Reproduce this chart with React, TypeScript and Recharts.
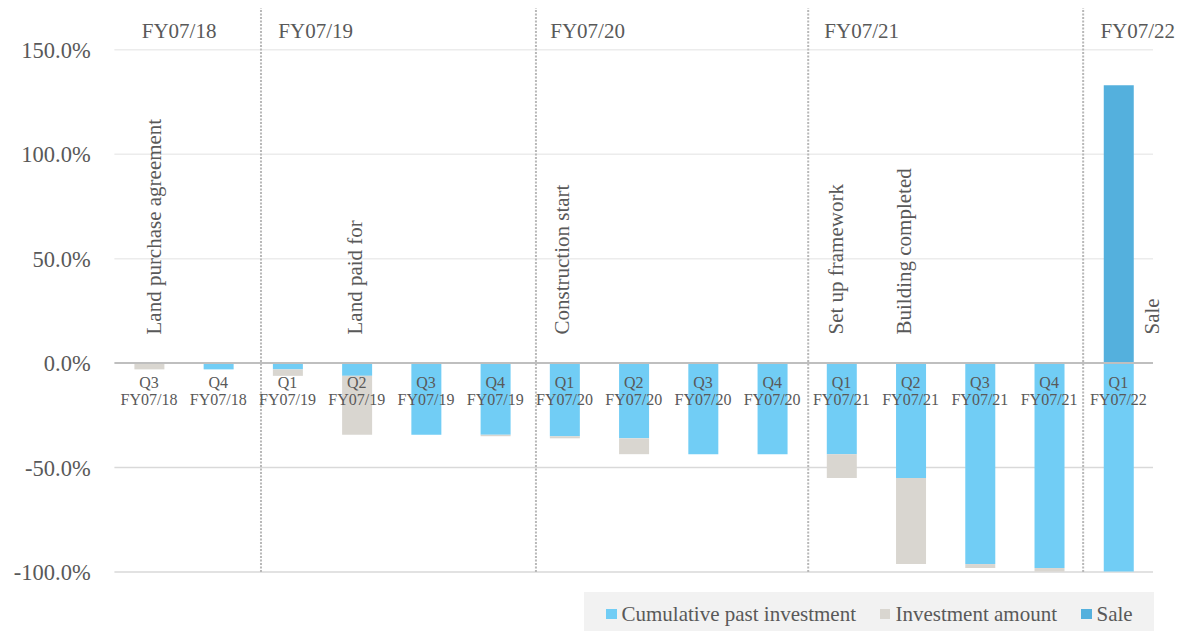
import React from 'react';
import { BarChart, Bar, XAxis, YAxis, ReferenceLine, ReferenceDot, Legend, CartesianGrid } from 'recharts';

// ---------- data ----------
const categories = [
  'Q3 FY07/18', 'Q4 FY07/18',
  'Q1 FY07/19', 'Q2 FY07/19', 'Q3 FY07/19', 'Q4 FY07/19',
  'Q1 FY07/20', 'Q2 FY07/20', 'Q3 FY07/20', 'Q4 FY07/20',
  'Q1 FY07/21', 'Q2 FY07/21', 'Q3 FY07/21', 'Q4 FY07/21',
  'Q1 FY07/22',
];
const cumulativePastInvestment = [0, -3, -3, -6.1, -34.3, -34.3, -35, -36, -43.6, -43.6, -43.6, -55, -96.2, -98.1, -99.8];
const investmentAmount = [-3, 0, -3.1, -28.2, 0, -0.7, -1, -7.6, 0, 0, -11.4, -41.2, -1.9, -1.7, 0];
const saleAmount = [0, 0, 0, 0, 0, 0, 0, 0, 0, 0, 0, 0, 0, 0, 133];

const yTicks = [-100, -50, 0, 50, 100, 150];
const yDomain = [-100, 170];

const fiscalYears = ['FY07/18', 'FY07/19', 'FY07/20', 'FY07/21', 'FY07/22'];
const fiscalYearFirstQuarter = ['Q3 FY07/18', 'Q1 FY07/19', 'Q1 FY07/20', 'Q1 FY07/21', 'Q1 FY07/22'];

const milestoneCategories = ['Q3 FY07/18', 'Q2 FY07/19', 'Q1 FY07/20', 'Q1 FY07/21', 'Q2 FY07/21', 'Q1 FY07/22'];
const milestoneTexts = ['Land purchase agreement', 'Land paid for', 'Construction start', 'Set up framework', 'Building completed', 'Sale'];

const seriesNames = ['Cumulative past investment', 'Investment amount', 'Sale'];

// ---------- styles ----------
const FONT = '"Liberation Serif", "Times New Roman", serif';
const TEXT = '#595959';
const BLUE = '#71CDF5';
const GRAY = '#D9D6D0';
const SALE = '#54B0DD';
const milestoneNudge = [11.6, 5, 5, 2, 0.6, 41];
const fyLabelNudge = [-7.3, -9.2, -14.2, -17.1, -18];
const dividerNudge = [8.1, 6.1, 1.4, -0.6];

const data = categories.map((c, i) => ({
  category: c,
  cumulative: cumulativePastInvestment[i],
  investment: investmentAmount[i],
  sale: saleAmount[i],
}));

const renderLegend = (props: any) => {
  const payload = props.payload || [];
  return (
    <div
      style={{
        display: 'flex',
        alignItems: 'center',
        width: '100%',
        height: '100%',
        background: '#f2f2f2',
        paddingLeft: 22,
        paddingTop: 4,
        boxSizing: 'border-box',
        fontFamily: FONT,
        fontSize: 21,
        color: TEXT,
        whiteSpace: 'nowrap',
      }}
    >
      {payload.map((e: any, i: number) => (
        <div key={i} style={{ display: 'flex', alignItems: 'center', marginRight: 24 }}>
          <span style={{ display: 'inline-block', width: 10.5, height: 10.5, background: e.color, marginRight: 5 }} />
          <span>{e.value}</span>
        </div>
      ))}
    </div>
  );
};

export default function App() {
  return (
    <div style={{ position: 'absolute', left: 0, top: 0, width: 1194, height: 631, background: '#fff' }}>
      <BarChart
        width={1194}
        height={631}
        data={data}
        stackOffset="sign"
        margin={{ top: 8, right: 41, bottom: 59, left: 0 }}
        style={{ fontFamily: FONT }}
      >
        <CartesianGrid vertical={false} horizontalValues={yTicks.filter((v) => v > 0)} stroke="#ececec" strokeWidth={1.5} />
        <CartesianGrid vertical={false} horizontalValues={yTicks.filter((v) => v < 0)} stroke="#d9d9d9" strokeWidth={1.5} />
        <XAxis dataKey="category" type="category" hide />
        <YAxis
          type="number"
          domain={yDomain}
          ticks={yTicks}
          allowDataOverflow
          width={114.4}
          tickSize={0}
          tickMargin={23.7}
          axisLine={false}
          tickLine={false}
          tick={{ fill: TEXT, fontSize: 22.5, fontFamily: FONT }}
          tickFormatter={(v: number) => `${v.toFixed(1)}%`}
        />

        {fiscalYearFirstQuarter.slice(1).map((c, i) => (
          <ReferenceLine
            key={`d${c}`}
            x={c}
            position="start"
            stroke="#b8b8b8"
            strokeWidth={2}
            strokeDasharray="2 1.5"
            shape={(p: any) => (
              <line
                x1={p.x1 + dividerNudge[i]}
                x2={p.x2 + dividerNudge[i]}
                y1={p.y1}
                y2={p.y2}
                stroke="#b8b8b8"
                strokeWidth={2}
                strokeDasharray="2 1.5"
              />
            )}
          />
        ))}

        <Bar dataKey="cumulative" name={seriesNames[0]} stackId="a" fill={BLUE} barSize={30} isAnimationActive={false} />
        <Bar dataKey="investment" name={seriesNames[1]} stackId="a" fill={GRAY} barSize={30} isAnimationActive={false} />
        <Bar dataKey="sale" name={seriesNames[2]} stackId="a" fill={SALE} barSize={30} isAnimationActive={false} />

        <ReferenceLine y={0} stroke="#bfbfbf" strokeWidth={2} />

        {categories.map((c) => (
          <ReferenceDot
            key={`q${c}`}
            x={c}
            y={0}
            r={0}
            fill="none"
            stroke="none"
            ifOverflow="visible"
            label={(p: any) => {
              const vb = p.viewBox || {};
              const cx = (vb.x || 0) + (vb.width || 0) / 2;
              const cy = (vb.y || 0) + (vb.height || 0) / 2;
              const [q, fy] = c.split(' ');
              return (
                <text x={cx} textAnchor="middle" fill={TEXT} fontSize={16} fontFamily={FONT}>
                  <tspan x={cx} y={cy + 24.5}>{q}</tspan>
                  <tspan x={cx} y={cy + 42}>{fy}</tspan>
                </text>
              );
            }}
          />
        ))}

        {milestoneCategories.map((c, i) => (
          <ReferenceDot
            key={`m${c}`}
            x={c}
            y={0}
            r={0}
            fill="none"
            stroke="none"
            ifOverflow="visible"
            label={(p: any) => {
              const vb = p.viewBox || {};
              const bx = (vb.x || 0) + (vb.width || 0) / 2 + milestoneNudge[i];
              const by = (vb.y || 0) + (vb.height || 0) / 2 - 28.6;
              return (
                <text
                  x={bx}
                  y={by}
                  transform={`rotate(-90 ${bx} ${by})`}
                  textAnchor="start"
                  fill={TEXT}
                  fontSize={21}
                  fontFamily={FONT}
                >
                  {milestoneTexts[i]}
                </text>
              );
            }}
          />
        ))}

        {fiscalYears.map((fy, i) => (
          <ReferenceDot
            key={`fy${fy}`}
            x={fiscalYearFirstQuarter[i]}
            y={yDomain[1]}
            r={0}
            fill="none"
            stroke="none"
            ifOverflow="visible"
            label={(p: any) => {
              const vb = p.viewBox || {};
              const x = (vb.x || 0) + (vb.width || 0) / 2 + fyLabelNudge[i];
              const y = (vb.y || 0) + (vb.height || 0) / 2 + 29.5;
              return (
                <text x={x} y={y} textAnchor="start" fill={TEXT} fontSize={21} fontFamily={FONT}>
                  {fy}
                </text>
              );
            }}
          />
        ))}

        <Legend
          layout="horizontal"
          verticalAlign="middle"
          align="center"
          content={renderLegend}
          wrapperStyle={{ left: 584, top: 592, width: 570, height: 40, margin: 0, padding: 0 }}
        />
      </BarChart>
    </div>
  );
}
